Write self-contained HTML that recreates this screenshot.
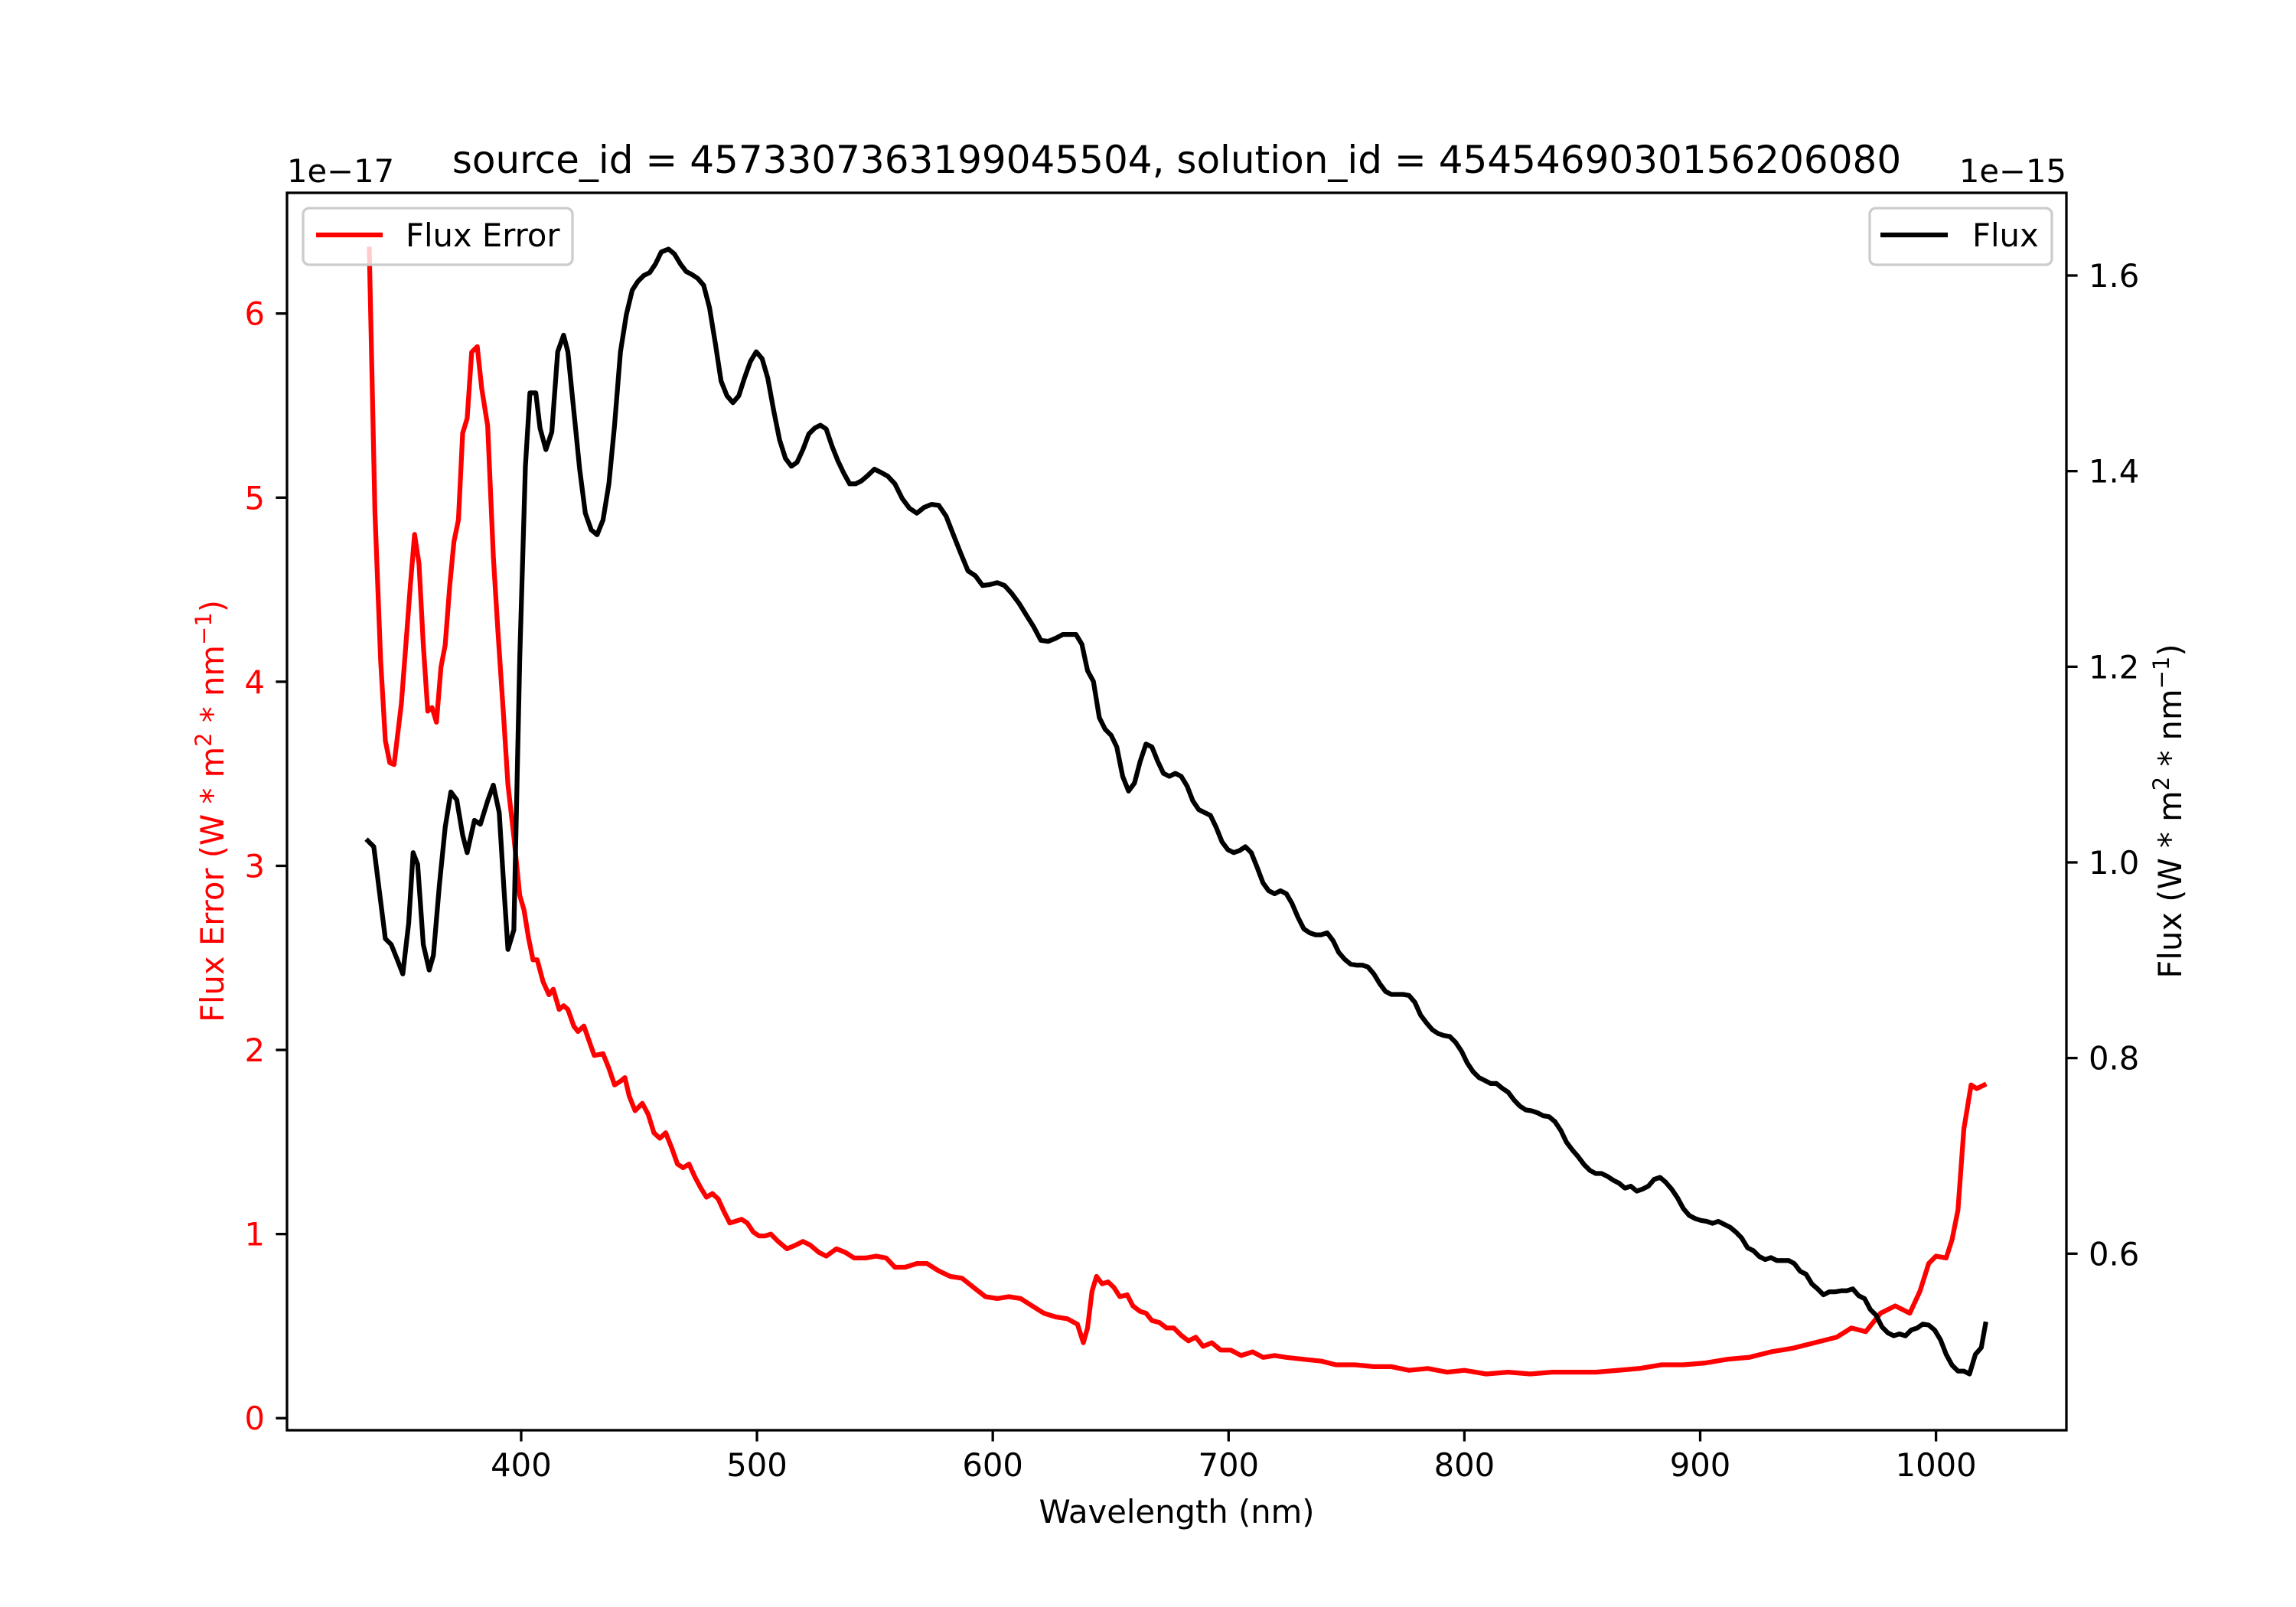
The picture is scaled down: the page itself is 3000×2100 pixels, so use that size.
<!DOCTYPE html>
<html><head><meta charset="utf-8"><style>
html,body{margin:0;padding:0;background:#fff;}
svg{display:block;font-family:"DejaVu Sans","Liberation Sans",sans-serif;}
</style></head><body>
<svg id="chart" width="3000" height="2100" viewBox="0 0 3000 2100" xmlns="http://www.w3.org/2000/svg">
<rect width="3000" height="2100" fill="#fff"/>
<text x="1537.5" y="226" font-size="50" text-anchor="middle">source_id = 4573307363199045504, solution_id = 4545469030156206080</text>
<g id="plot"></g>
</svg>
<script>
const errWl = [335.6,338,340.4,342.4,344.3,346.1,349.2,351.1,353,354.8,356.7,358.5,360.4,362.2,364.1,366,367.8,369.7,371.5,373.4,375.2,377.1,379,381.4,383.3,385.8,388.2,390.1,392.6,394.4,396.9,399.4,401.2,403.1,405,406.8,409.3,411.8,413.6,416.1,418,419.8,422.3,424.1,426.6,428.5,431,434.7,437.2,439.6,442.1,444,445.8,448.3,451.4,453.9,456.3,458.8,461.3,463.8,466.3,468.7,471.2,473.7,476.2,478.6,481.1,483.6,486.1,488.5,491,493.5,495.9,498.5,500.9,503.4,505.9,509,512.7,516.4,519.5,522.6,526.3,529.4,533.7,537.5,541.2,546.1,550.5,554.8,558.5,562.8,567.8,572.1,577.1,582,587,591.9,596.9,601.9,606.8,611.8,616.7,621.7,626.6,631.6,635.9,638.4,640.2,642.1,644,646.4,648.9,651.4,653.9,657,659.4,662.5,665,667.5,670.6,673.7,676.8,679.9,683,686.1,689.2,692.9,696.6,700.9,705.3,710.2,714.6,719.5,724.5,731.9,739.3,745.5,753.6,761.6,769,776.5,784.5,792.6,800,809.3,818.6,827.9,837.2,846.4,855.7,865,874.3,883.6,892.9,902.2,911.5,920.7,930,939.3,948.6,957.9,964.1,970.2,976.5,982.7,988.9,993.2,996.9,1000,1004.3,1006.8,1009.3,1011.8,1014.9,1017.3,1020.4];
const errVals = [6.35,4.92,4.12,3.68,3.56,3.55,3.88,4.20,4.52,4.80,4.64,4.20,3.84,3.86,3.78,4.08,4.20,4.52,4.76,4.88,5.35,5.43,5.79,5.82,5.59,5.39,4.68,4.28,3.80,3.44,3.16,2.84,2.76,2.61,2.49,2.49,2.37,2.30,2.33,2.22,2.24,2.22,2.13,2.10,2.13,2.06,1.97,1.98,1.90,1.81,1.83,1.85,1.75,1.67,1.71,1.65,1.55,1.52,1.55,1.47,1.38,1.36,1.38,1.31,1.25,1.20,1.22,1.19,1.12,1.06,1.07,1.08,1.06,1.01,0.99,0.99,1.00,0.96,0.92,0.94,0.96,0.94,0.90,0.88,0.92,0.90,0.87,0.87,0.88,0.87,0.82,0.82,0.84,0.84,0.80,0.77,0.76,0.71,0.66,0.65,0.66,0.65,0.61,0.57,0.55,0.54,0.51,0.41,0.49,0.69,0.77,0.73,0.74,0.71,0.66,0.67,0.61,0.58,0.57,0.53,0.52,0.49,0.49,0.45,0.42,0.44,0.39,0.41,0.37,0.37,0.34,0.36,0.33,0.34,0.33,0.32,0.31,0.29,0.29,0.28,0.28,0.26,0.27,0.25,0.26,0.24,0.25,0.24,0.25,0.25,0.25,0.26,0.27,0.29,0.29,0.30,0.32,0.33,0.36,0.38,0.41,0.44,0.49,0.47,0.57,0.61,0.57,0.69,0.84,0.88,0.87,0.97,1.13,1.57,1.81,1.79,1.81];
const fluxWl = [335,337.5,340,342.4,344.9,347.4,349.8,352.3,354.2,356.1,358.5,361,362.8,365.3,367.8,370.2,372.7,375.2,377.1,380.2,382.7,385.8,388.2,390.7,392.6,394.4,396.9,399.4,401.8,403.7,406.2,408,410.5,413,415.5,418,419.8,422.3,424.8,427.2,429.7,432.2,434.7,437.2,439.6,442.1,444.6,447.1,449.5,452,454.5,457,459.4,462.5,465,467.5,470,472.4,474.9,477.4,479.9,482.4,484.8,487.3,489.8,492.3,494.7,497.2,499.7,502.2,504.6,507.1,509.6,512.1,514.6,517,519.5,522,524.5,526.9,529.4,531.9,534.4,536.8,539.3,541.8,544.3,546.7,549.8,552.3,555.4,558.5,561.6,564.7,567.8,570.9,574,577.1,580.2,583.3,586.4,589.5,592.6,595.7,598.8,601.9,605,608,611.1,614.2,617.3,620.4,623.5,626.6,629.7,632.8,635.3,637.8,640.2,642.7,645.2,647.7,650.2,652.6,655.1,657.6,660.1,662.5,665,667.5,670,672.4,674.9,677.4,679.9,682.4,684.8,687.3,689.8,692.3,694.7,697.2,699.7,702.2,704.6,707.1,709.6,712.1,714.6,717,719.5,722,724.5,726.9,729.4,731.9,734.4,736.8,739.3,741.8,744.3,746.7,749.2,751.7,754.2,756.7,759.1,761.6,764.1,766.6,769,771.5,774,776.5,779,781.4,783.9,786.4,788.9,791.3,793.8,796.3,798.8,801.2,803.7,806.2,808.7,811.1,813.6,816.1,818.6,821.1,823.5,826,828.5,831,833.4,835.9,838.4,840.9,843.3,845.8,848.3,850.8,853.3,855.7,858.2,860.7,863.2,865.6,868.1,870.6,873.1,875.5,878,880.5,883,885.4,887.9,890.4,892.9,895.4,897.8,900.3,902.8,905.3,907.7,910.2,912.7,915.2,917.6,920.1,922.6,925.1,927.6,930,932.5,935,937.5,939.9,942.4,944.9,947.4,949.8,952.3,954.8,957.3,959.8,962.2,964.7,967.2,969.7,972.1,974.6,977.1,979.6,982.1,984.5,987,989.5,992,994.4,996.9,999.4,1001.9,1004.3,1006.8,1009.3,1011.8,1014.2,1016.7,1019.2,1021];
const fluxVals = [1.022,1.016,0.968,0.922,0.916,0.901,0.886,0.938,1.010,0.998,0.916,0.890,0.905,0.976,1.036,1.072,1.064,1.028,1.010,1.043,1.039,1.063,1.079,1.051,0.976,0.911,0.931,1.208,1.405,1.480,1.480,1.444,1.422,1.440,1.522,1.539,1.522,1.462,1.402,1.357,1.340,1.335,1.350,1.387,1.447,1.522,1.560,1.585,1.594,1.600,1.603,1.612,1.624,1.627,1.622,1.612,1.604,1.601,1.597,1.590,1.567,1.530,1.492,1.477,1.470,1.477,1.495,1.512,1.522,1.515,1.495,1.462,1.432,1.413,1.405,1.409,1.422,1.438,1.444,1.447,1.443,1.425,1.410,1.398,1.387,1.387,1.390,1.395,1.402,1.399,1.395,1.387,1.372,1.362,1.357,1.363,1.366,1.365,1.354,1.335,1.316,1.298,1.293,1.283,1.284,1.286,1.283,1.275,1.265,1.253,1.241,1.227,1.226,1.229,1.233,1.233,1.233,1.223,1.196,1.185,1.148,1.136,1.130,1.118,1.088,1.073,1.081,1.103,1.121,1.118,1.103,1.091,1.088,1.091,1.088,1.078,1.063,1.054,1.051,1.048,1.036,1.021,1.013,1.010,1.012,1.016,1.010,0.995,0.979,0.971,0.968,0.971,0.968,0.958,0.944,0.932,0.928,0.926,0.926,0.928,0.920,0.908,0.901,0.896,0.895,0.895,0.893,0.886,0.876,0.868,0.865,0.865,0.865,0.864,0.857,0.844,0.836,0.829,0.825,0.823,0.822,0.816,0.807,0.795,0.786,0.780,0.777,0.774,0.774,0.769,0.765,0.757,0.751,0.747,0.746,0.744,0.741,0.740,0.735,0.726,0.714,0.706,0.699,0.691,0.685,0.682,0.682,0.679,0.675,0.672,0.667,0.669,0.664,0.666,0.669,0.676,0.678,0.673,0.666,0.657,0.646,0.639,0.636,0.634,0.633,0.631,0.633,0.630,0.627,0.622,0.616,0.606,0.603,0.597,0.594,0.596,0.593,0.593,0.593,0.590,0.582,0.579,0.569,0.564,0.558,0.561,0.561,0.562,0.562,0.564,0.557,0.554,0.543,0.537,0.525,0.519,0.516,0.518,0.516,0.522,0.524,0.528,0.527,0.522,0.512,0.497,0.486,0.480,0.480,0.477,0.497,0.504,0.528];
const xTicks = [400,500,600,700,800,900,1000];
const xTickLabels = ["400","500","600","700","800","900","1000"];
const yLeftTicks = [0,1,2,3,4,5,6];
const yLeftTickLabels = ["0","1","2","3","4","5","6"];
const yRightTicks = [0.6,0.8,1.0,1.2,1.4,1.6];
const yRightTickLabels = ["0.6","0.8","1.0","1.2","1.4","1.6"];

const L=375,R=2700,T=252,B=1869;
const NS="http://www.w3.org/2000/svg";
const g=document.getElementById('plot');
function mk(tag,attrs,parent){const e=document.createElementNS(NS,tag);for(const k in attrs)e.setAttribute(k,attrs[k]);(parent||g).appendChild(e);return e;}
const allX=errWl.concat(fluxWl);
const xmin0=Math.min(...allX),xmax0=Math.max(...allX),xp=(xmax0-xmin0)*0.05;
const xScale=v=>L+(v-(xmin0-xp))/((xmax0+xp)-(xmin0-xp))*(R-L);
const e0=Math.min(...errVals),e1=Math.max(...errVals),ep=(e1-e0)*0.05;
const yL=v=>B-(v-(e0-ep))/((e1+ep)-(e0-ep))*(B-T);
const f0=Math.min(...fluxVals),f1=Math.max(...fluxVals),fp=(f1-f0)*0.05;
const yR=v=>B-(v-(f0-fp))/((f1+fp)-(f0-fp))*(B-T);

// error line
let d=errWl.map((w,i)=>(i?'L':'M')+xScale(w).toFixed(1)+','+yL(errVals[i]).toFixed(1)).join('');
const el1=mk('path',{d:d,fill:'none',stroke:'#ff0000','stroke-width':6.25,'stroke-linejoin':'round','stroke-linecap':'square'});



// left legend
const lg1=mk('g',{});


mk('rect',{x:396,y:272,width:352,height:74,rx:8,fill:'#fff','fill-opacity':0.8,stroke:'#cccccc','stroke-width':3.3},lg1);
mk('line',{x1:413,y1:307,x2:500,y2:307,stroke:'#ff0000','stroke-width':6.25},lg1);
const t1=mk('text',{x:530,y:322,'font-size':41.7},lg1);t1.textContent='Flux Error';

// flux line
d=fluxWl.map((w,i)=>(i?'L':'M')+xScale(w).toFixed(1)+','+yR(fluxVals[i]).toFixed(1)).join('');
const el2=mk('path',{d:d,fill:'none',stroke:'#000','stroke-width':6.25,'stroke-linejoin':'round','stroke-linecap':'square'});



// right legend
const lg2=mk('g',{});


mk('rect',{x:2443,y:272,width:238,height:74,rx:8,fill:'#fff','fill-opacity':0.8,stroke:'#cccccc','stroke-width':3.3},lg2);
mk('line',{x1:2457,y1:307,x2:2545,y2:307,stroke:'#000','stroke-width':6.25},lg2);
const t2=mk('text',{x:2577,y:322,'font-size':41.7},lg2);t2.textContent='Flux';

// frame
const fr=mk('rect',{x:L,y:T,width:R-L,height:B-T,fill:'none',stroke:'#000','stroke-width':3.3});



// x ticks
xTicks.forEach((v,i)=>{const x=xScale(v);
 mk('line',{x1:x,y1:B,x2:x,y2:B+14.6,stroke:'#000','stroke-width':3.3});
 const t=mk('text',{x:x,y:1929,'font-size':41.7,'text-anchor':'middle'});t.textContent=xTickLabels[i];
 
 
});
yLeftTicks.forEach((v,i)=>{const y=yL(v);
 mk('line',{x1:L,y1:y,x2:L-14.6,y2:y,stroke:'#000','stroke-width':3.3});
 const t=mk('text',{x:346,y:y+15,'font-size':41.7,'text-anchor':'end',fill:'#ff0000'});t.textContent=yLeftTickLabels[i];
 
 
});
yRightTicks.forEach((v,i)=>{const y=yR(v);
 mk('line',{x1:R,y1:y,x2:R+14.6,y2:y,stroke:'#000','stroke-width':3.3});
 const t=mk('text',{x:2729,y:y+15,'font-size':41.7,'text-anchor':'start'});t.textContent=yRightTickLabels[i];
 
 
});
</script>
<svg style="position:absolute;left:0;top:0" width="3000" height="2100">
<text x="375" y="238" font-size="41.7" font-family="DejaVu Sans, Liberation Sans, sans-serif">1e−17</text>
<text x="2700" y="238" font-size="41.7" text-anchor="end" font-family="DejaVu Sans, Liberation Sans, sans-serif">1e−15</text>
<text x="1537.5" y="1990" font-size="41.7" text-anchor="middle" font-family="DejaVu Sans, Liberation Sans, sans-serif">Wavelength (nm)</text>
<text transform="translate(292,1060) rotate(-90)" font-size="41.7" text-anchor="middle" fill="#ff0000" font-family="DejaVu Sans, Liberation Sans, sans-serif">Flux Error (W * m<tspan dy="-16" font-size="29">2</tspan><tspan dy="16"> * nm</tspan><tspan dy="-16" font-size="29">−1</tspan><tspan dy="16">)</tspan></text>
<text transform="translate(2850,1060) rotate(-90)" font-size="41.7" text-anchor="middle" font-family="DejaVu Sans, Liberation Sans, sans-serif">Flux (W * m<tspan dy="-16" font-size="29">2</tspan><tspan dy="16"> * nm</tspan><tspan dy="-16" font-size="29">−1</tspan><tspan dy="16">)</tspan></text>
</svg>
</body></html>
